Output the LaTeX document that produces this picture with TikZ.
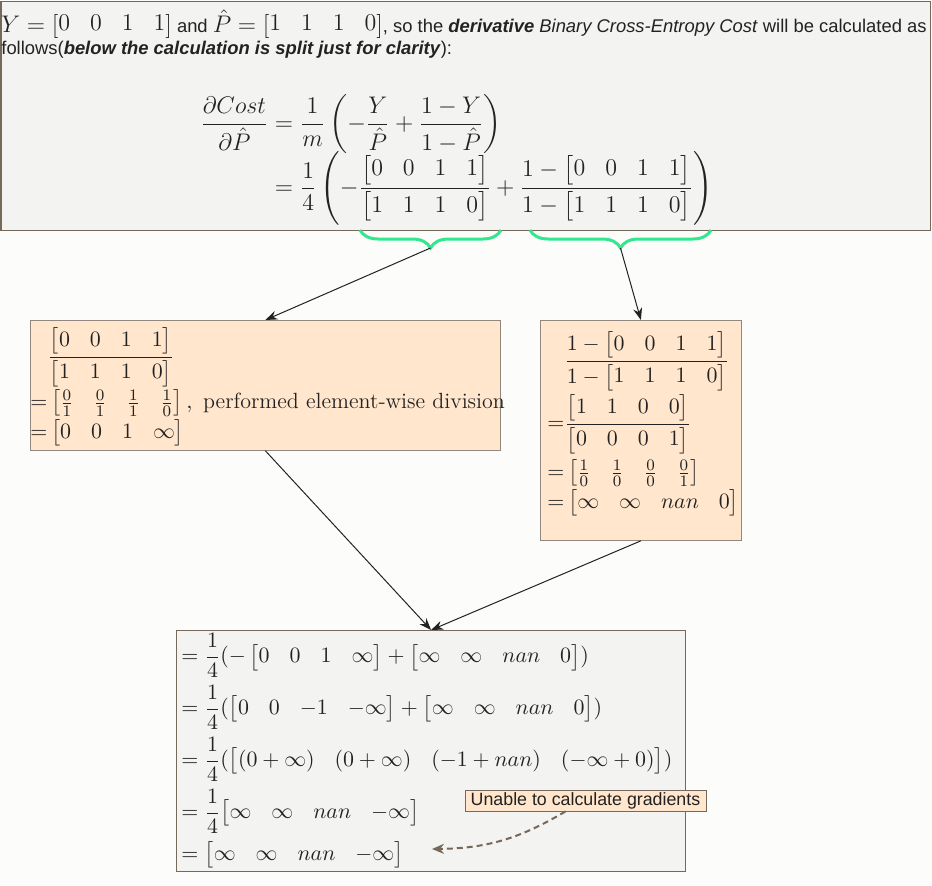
\documentclass[tikz,border=0pt]{standalone}
\usepackage{amsmath}
\usepackage{amssymb}
\usepackage{fontspec}
\usepackage{tikz}
\usetikzlibrary{arrows.meta,decorations.pathreplacing}
\usepackage{xcolor}
\newfontfamily\notefont{Liberation Sans}
\definecolor{page_white}{HTML}{FCFCFA}
\definecolor{panel_grey}{HTML}{F3F3F1}
\definecolor{box_peach}{HTML}{FFE6CC}
\definecolor{edge_brown}{HTML}{75695C}
\definecolor{brace_green}{HTML}{33E690}
\definecolor{ink}{HTML}{222222}
\newcommand{\eqsize}{\fontsize{12.3}{14}\selectfont}
\newcommand{\boxsize}{\fontsize{11}{13}\selectfont}
\newcommand{\inmath}[1]{{\fontsize{11.8}{11}\selectfont$#1$}}

\begin{document}
\begin{tikzpicture}[x=0.5pt, y=-0.5pt,
	panel/.style={draw=edge_brown, line width=0.6pt, fill=panel_grey, inner sep=0pt, anchor=north west},
	calcbox/.style={draw=edge_brown!80, line width=0.4pt, fill=box_peach, inner sep=0pt, anchor=north west},
	maths/.style={inner sep=0pt, anchor=west, text=ink},
	flow/.style={-{Stealth[length=6pt, width=4.5pt]}, line width=0.5pt, ink},
	curly/.style={decorate, decoration={brace, mirror, amplitude=9pt}, brace_green, line width=1.5pt}]
	\useasboundingbox (0,0) rectangle (932,885);
	\fill[page_white] (0,0) rectangle (932,885);
	\node[panel, minimum width=464.75pt, minimum height=114.75pt] (intro) at (0.5,0.5) {};
	\node[calcbox, minimum width=235pt, minimum height=65pt] (lhs) at (30,320) {};
	\node[calcbox, minimum width=100.5pt, minimum height=110pt] (rhs) at (540,320) {};
	\node[panel, minimum width=254.5pt, minimum height=120.5pt] (total) at (176,630) {};
	\node[inner sep=0pt, anchor=north west, align=left, text=ink, font={\notefont\fontsize{9.2}{11}\selectfont}] (prose) at (1,9) {\inmath{Y = \begin{bmatrix}0&0&1&1\end{bmatrix}} and \inmath{\hat{P} = \begin{bmatrix}1&1&1&0\end{bmatrix}}, so the \textbf{\textit{derivative}} \textit{Binary Cross-Entropy Cost} will be calculated as\\follows(\textbf{\textit{below the calculation is split just for clarity}}):};
	\node[maths, font=\eqsize] (deriv) at (200,160) {$\begin{aligned}
		\frac{\partial Cost}{\partial \hat{P}} &= \frac{1}{m}\left(-\frac{Y}{\hat{P}}+\frac{1-Y}{1-\hat{P}}\right)\\[-5pt]
		&= \frac{1}{4}\left(-\frac{\begin{bmatrix}0&0&1&1\end{bmatrix}}{\begin{bmatrix}1&1&1&0\end{bmatrix}}+\frac{1-\begin{bmatrix}0&0&1&1\end{bmatrix}}{1-\begin{bmatrix}1&1&1&0\end{bmatrix}}\right)
	\end{aligned}$};
	\node[maths, font=\boxsize] (lhsmath) at (30,387) {$\begin{aligned}
		&\frac{\begin{bmatrix}0&0&1&1\end{bmatrix}}{\begin{bmatrix}1&1&1&0\end{bmatrix}}\\[-2.5pt]
		=&\begin{bmatrix}\frac{0}{1}&\frac{0}{1}&\frac{1}{1}&\frac{1}{0}\end{bmatrix},\ \text{performed element-wise division}\\[-2.5pt]
		=&\begin{bmatrix}0&0&1&\infty\end{bmatrix}
	\end{aligned}$};
	\node[maths, font=\boxsize] (rhsmath) at (547,424) {$\begin{aligned}
		&\frac{1-\begin{bmatrix}0&0&1&1\end{bmatrix}}{1-\begin{bmatrix}1&1&1&0\end{bmatrix}}\\[-2pt]
		=&\frac{\begin{bmatrix}1&1&0&0\end{bmatrix}}{\begin{bmatrix}0&0&0&1\end{bmatrix}}\\[-1pt]
		=&\begin{bmatrix}\frac{1}{0}&\frac{1}{0}&\frac{0}{0}&\frac{0}{1}\end{bmatrix}\\[-2.5pt]
		=&\begin{bmatrix}\infty&\infty&nan&0\end{bmatrix}
	\end{aligned}$};
	\node[maths, font=\boxsize] (totalmath) at (175,751) {$\begin{aligned}
		&= \frac{1}{4}(-\begin{bmatrix}0&0&1&\infty\end{bmatrix}+\begin{bmatrix}\infty&\infty&nan&0\end{bmatrix})\\
		&= \frac{1}{4}(\begin{bmatrix}0&0&-1&-\infty\end{bmatrix}+\begin{bmatrix}\infty&\infty&nan&0\end{bmatrix})\\
		&= \frac{1}{4}(\begin{bmatrix}(0+\infty)&(0+\infty)&(-1+nan)&(-\infty+0)\end{bmatrix})\\
		&= \frac{1}{4}\!\begin{bmatrix}\infty&\infty&nan&-\infty\end{bmatrix}\\
		&= \begin{bmatrix}\infty&\infty&nan&-\infty\end{bmatrix}
	\end{aligned}$};
	\node[draw=edge_brown, fill=box_peach, line width=0.4pt, inner sep=0pt, minimum width=120.5pt, minimum height=10.5pt, text=ink, font={\notefont\fontsize{8.9}{10}\selectfont}] (warn) at (585.5,800.5) {Unable to calculate gradients};
	\coordinate (gradend) at (432,849);
	\draw[curly] (360,230) -- (501,230);
	\draw[curly] (530,230) -- (711,230);
	\coordinate (lbtip) at (430.5,248);
	\coordinate (rbtip) at (620.5,248);
	\draw[flow] (lbtip) -- (lhs.north);
	\draw[flow] (rbtip) -- (rhs.north);
	\draw[flow] (lhs.south) -- (total.north);
	\draw[flow] (rhs.south) -- (total.north);
	\draw[edge_brown, line width=1pt, dash pattern=on 3pt off 2pt, -{Stealth[length=6pt, width=5pt]}] ([xshift=-10pt]warn.south) to[bend left=15] (gradend);
\end{tikzpicture}
\end{document}
